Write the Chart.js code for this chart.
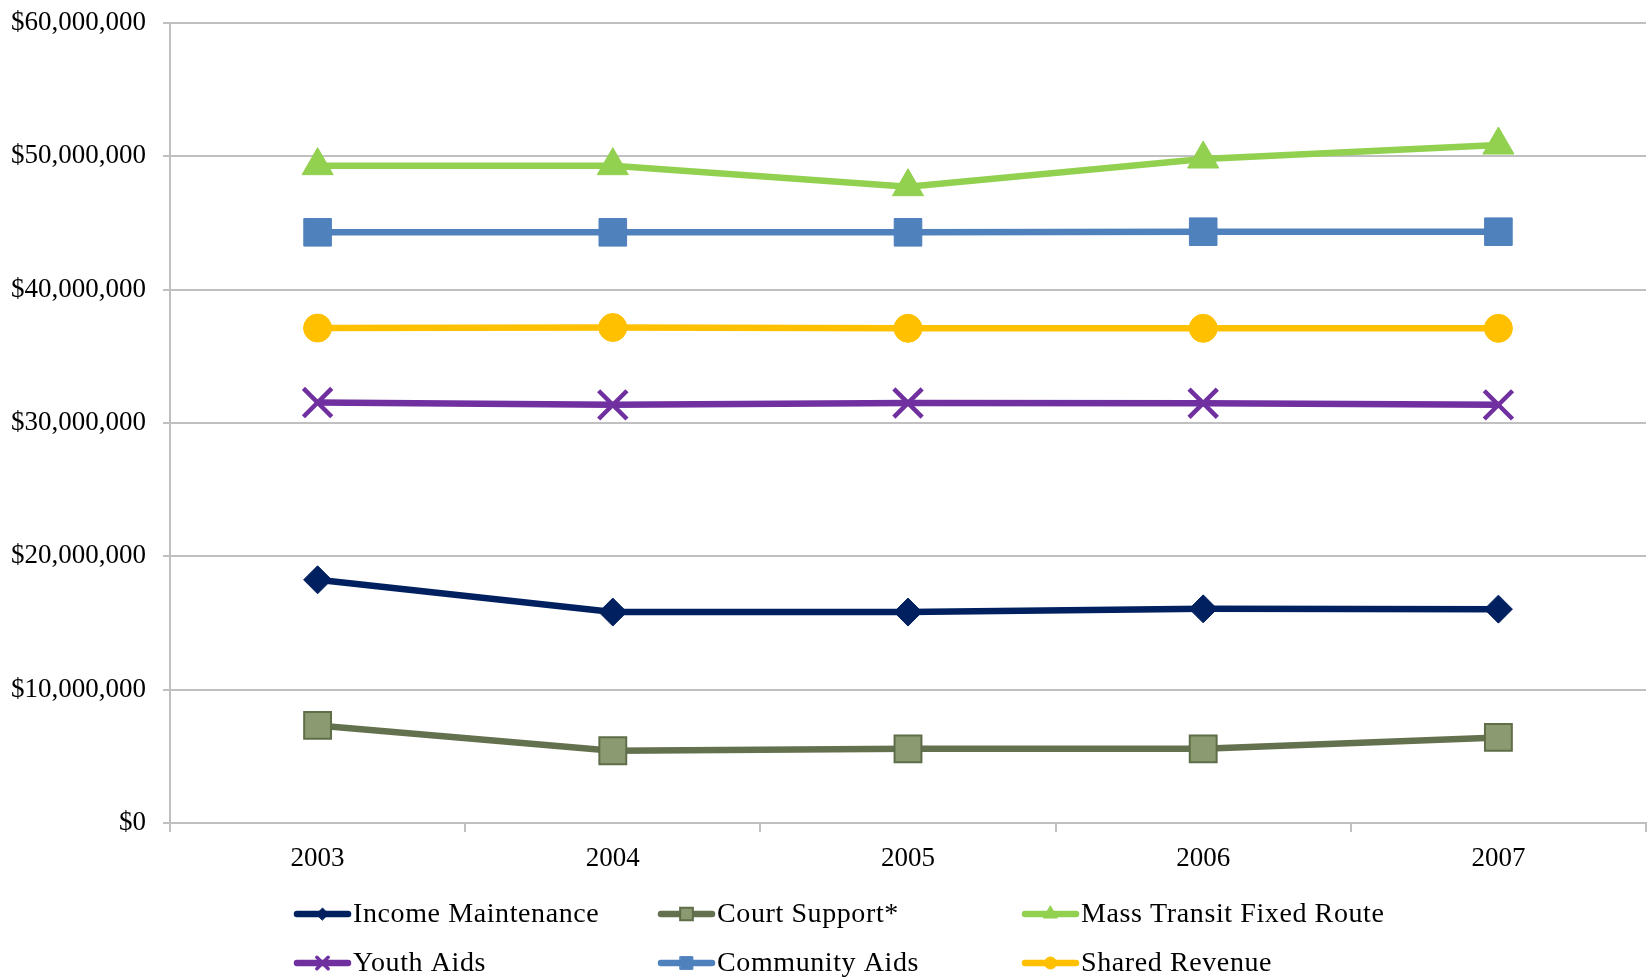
<!DOCTYPE html>
<html lang="en">
<head>
<meta charset="UTF-8">
<title>Funding by program, 2003-2007</title>
<script src="https://cdn.jsdelivr.net/npm/chart.js@4/dist/chart.umd.min.js"></script>
<style>
*{margin:0;padding:0;box-sizing:border-box}
html,body{width:1647px;height:977px;background:#fff;overflow:hidden}
canvas{display:block}
</style>
</head>
<body>
<canvas id="c" width="1647" height="977"></canvas>
<script>
// years on the x axis
const years = ['2003', '2004', '2005', '2006', '2007'];

// dollars per year
const incomeMaintenance = [18240000, 15820000, 15820000, 16060000, 16040000];
const courtSupport = [7320000, 5420000, 5560000, 5560000, 6420000];
const massTransit = [49300000, 49300000, 47720000, 49800000, 50850000];
const youthAids = [31530000, 31360000, 31500000, 31480000, 31360000];
const communityAids = [44300000, 44300000, 44300000, 44350000, 44350000];
const sharedRevenue = [37120000, 37160000, 37100000, 37100000, 37100000];

const yMax = 60000000;
const yStep = 10000000;

const FONT = "'Liberation Serif', 'Times New Roman', serif";
const GRID = '#c0c0c0';

function series(label, data, color, style) {
  return Object.assign({
    label, data,
    borderColor: color,
    backgroundColor: color,
    borderWidth: 6.5,
    pointBackgroundColor: color,
    pointBorderColor: color,
    pointBorderWidth: 1,
    tension: 0
  }, style);
}

const datasets = [
  series('Income Maintenance', incomeMaintenance, '#002060', { pointStyle: 'rectRot', pointRadius: 14, legendRadius: 6 }),
  series('Court Support*', courtSupport, '#63714f', { pointStyle: 'rect', pointRadius: 19, pointBackgroundColor: '#8b9a71', pointBorderColor: '#5f6e48', pointBorderWidth: 2, legendRadius: 9 }),
  series('Mass Transit Fixed Route', massTransit, '#92d050', { pointStyle: 'triangle', pointRadius: 18, legendRadius: 8 }),
  series('Youth Aids', youthAids, '#7030a0', { pointStyle: 'crossRot', pointRadius: 20, pointBorderWidth: 4.5, legendRadius: 8 }),
  series('Community Aids', communityAids, '#4f81bd', { pointStyle: 'rect', pointRadius: 19.5, legendRadius: 9 }),
  series('Shared Revenue', sharedRevenue, '#ffc000', { pointStyle: 'circle', pointRadius: 14, legendRadius: 6 })
];

// legend laid out as a 3-column grid under the plot
const gridLegend = {
  id: 'gridLegend',
  afterDraw(chart) {
    const ctx = chart.ctx;
    const area = chart.chartArea;
    const colW = 364;
    const x0 = area.left + 124;
    const rows = [area.bottom + 91, area.bottom + 140];
    ctx.save();
    ctx.font = '28px ' + FONT;
    ctx.letterSpacing = '0.6px';
    ctx.textBaseline = 'middle';
    chart.data.datasets.forEach((ds, i) => {
      const x = x0 + (i % 3) * colW;
      const y = rows[Math.floor(i / 3)];
      ctx.strokeStyle = ds.borderColor;
      ctx.lineWidth = 6.5;
      ctx.lineCap = 'round';
      ctx.beginPath();
      ctx.moveTo(x + 3, y);
      ctx.lineTo(x + 54, y);
      ctx.stroke();
      ctx.fillStyle = ds.pointBackgroundColor;
      ctx.strokeStyle = ds.pointBorderColor;
      ctx.lineWidth = ds.pointStyle === 'crossRot' ? 3.5 : ds.pointBorderWidth;
      Chart.helpers.drawPoint(ctx, { pointStyle: ds.pointStyle, radius: ds.legendRadius, borderWidth: ctx.lineWidth }, x + 28.5, y);
      ctx.fillStyle = '#000';
      ctx.fillText(ds.label, x + 59, y + 1);
    });
    ctx.restore();
  }
};

// keep the plot edges fixed, no extra room for overhanging labels
function noEdgePadding(scale) {
  scale.paddingTop = 0;
  scale.paddingBottom = 0;
  scale.paddingLeft = 0;
  scale.paddingRight = 0;
}

new Chart(document.getElementById('c'), {
  type: 'line',
  data: { labels: years, datasets },
  plugins: [gridLegend],
  options: {
    responsive: false,
    animation: false,
    events: [],
    layout: { autoPadding: false, padding: { top: 23, right: 1, bottom: 100, left: 0 } },
    plugins: {
      legend: { display: false },
      tooltip: { enabled: false }
    },
    scales: {
      x: {
        offset: true,
        grid: { offset: true, drawOnChartArea: false, drawTicks: true, tickLength: 9, color: GRID, lineWidth: 2 },
        border: { display: true, color: GRID, width: 2 },
        ticks: { color: '#000', font: { family: FONT, size: 27 }, padding: 11 },
        afterFit(scale) { scale.height = 54; noEdgePadding(scale); }
      },
      y: {
        min: 0,
        max: yMax,
        grid: { color: GRID, lineWidth: 2, tickLength: 7 },
        border: { display: true, color: GRID, width: 2 },
        ticks: {
          stepSize: yStep,
          color: '#000',
          font: { family: FONT, size: 27 },
          padding: 17,
          callback: v => '$' + Number(v).toLocaleString('en-US')
        },
        afterFit(scale) { scale.width = 170; noEdgePadding(scale); }
      }
    }
  }
});
</script>
</body>
</html>
